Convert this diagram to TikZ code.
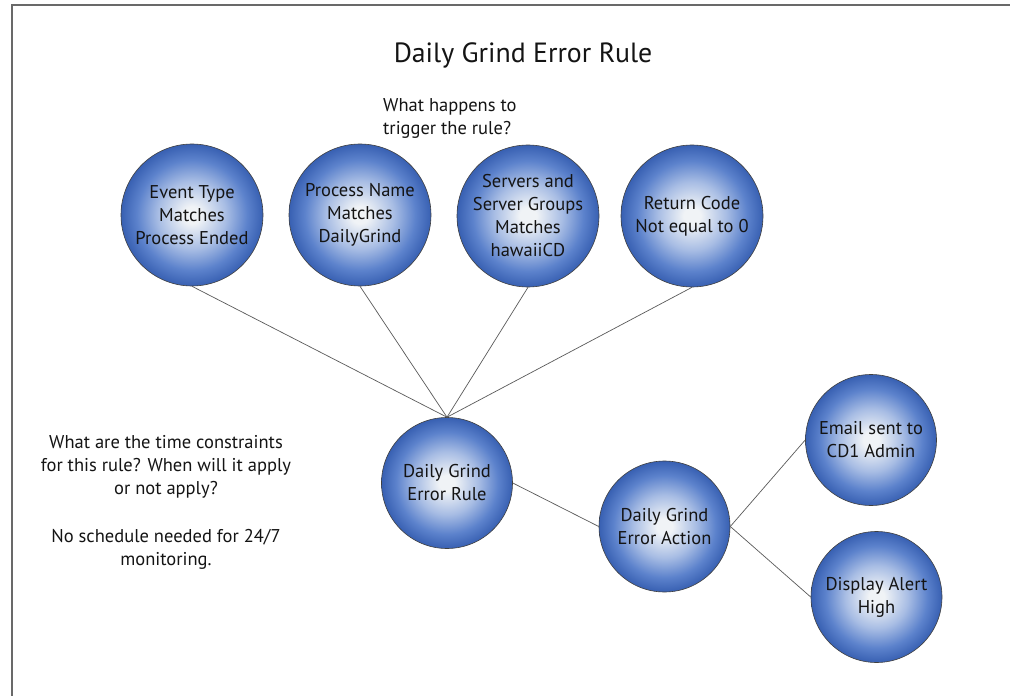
\documentclass[tikz,border=0pt]{standalone}
\usepackage{fontspec}
\setmainfont{PT Sans}
\usetikzlibrary{calc}

% colours of the shaded balls
\definecolor{ballcore}{RGB}{240,243,246}
\definecolor{ballmid}{RGB}{168,189,228}
\definecolor{ballbody}{RGB}{92,130,204}
\definecolor{ballrim}{RGB}{56,96,178}
\definecolor{inktext}{RGB}{20,20,20}
\definecolor{linkgray}{RGB}{90,90,90}
\definecolor{framegray}{RGB}{105,105,105}

% radial shading: the 25bp radius maps onto the edge of the circle
\pgfdeclareradialshading{ballshade}{\pgfpoint{0bp}{0bp}}{%
  color(0bp)=(ballcore); color(3bp)=(ballcore); color(12bp)=(ballmid);
  color(19.5bp)=(ballbody); color(25bp)=(ballrim); color(50bp)=(ballrim)}

\tikzset{
  ball/.style={circle, draw=black!75, line width=0.6bp, shading=ballshade,
    inner sep=0pt, align=center, text=inktext,
    font=\fontsize{18.5bp}{23bp}\selectfont},
  bigball/.style={ball, minimum size=142bp},
  smallball/.style={ball, minimum size=131bp},
  link/.style={draw=linkgray, line width=0.7bp},
  note/.style={text=inktext, font=\fontsize{18.5bp}{23bp}\selectfont, inner sep=0pt},
}

\begin{document}
\begin{tikzpicture}[x=1bp, y=-1bp]
  \useasboundingbox (0,0) rectangle (1010,696);
  \fill[white] (0,0) rectangle (1010,696);

  % frame on the top and left
  \draw[framegray, line width=1.2bp] (12,696) -- (12,5) -- (1010,5);

  % title and notes
  \node[note, font=\fontsize{27.8bp}{32bp}\selectfont] (title) at (523,55) {Daily Grind Error Rule};
  \node[note, align=left, anchor=west] (trigger) at (383,118) {What happens to\\trigger the rule?};
  \node[note, align=center] (timing) at (166,502)
    {What are the time constraints\\for this rule? When will it apply\\or not apply?\\[25bp]No schedule needed for 24/7\\monitoring.};

  % conditions
  \node[bigball] (event)   at (192,215) {Event Type\\Matches\\Process Ended};
  \node[bigball] (process) at (360,215) {Process Name\\Matches\\DailyGrind};
  \node[bigball] (servers) at (528,216) {Servers and\\Server Groups\\Matches\\hawaiiCD};
  \node[bigball] (retcode) at (692,216) {Return Code\\Not equal to 0};

  % rule, action and responses
  \node[smallball] (rule)    at (447,483)   {Daily Grind\\Error Rule};
  \node[smallball] (action)  at (664.5,526.5) {Daily Grind\\Error Action};
  \node[smallball] (email)   at (871,440)   {Email sent to\\CD1 Admin};
  \node[smallball] (display) at (876.5,597) {Display Alert\\High};

  % connectors
  \draw[link] (event.south)   -- (rule.north);
  \draw[link] (process.south) -- (rule.north);
  \draw[link] (servers.south) -- (rule.north);
  \draw[link] (retcode.south) -- (rule.north);
  \draw[link] (rule.east)     -- (action.west);
  \draw[link] (action.east)   -- (email.west);
  \draw[link] (action.east)   -- (display.west);
\end{tikzpicture}
\end{document}
